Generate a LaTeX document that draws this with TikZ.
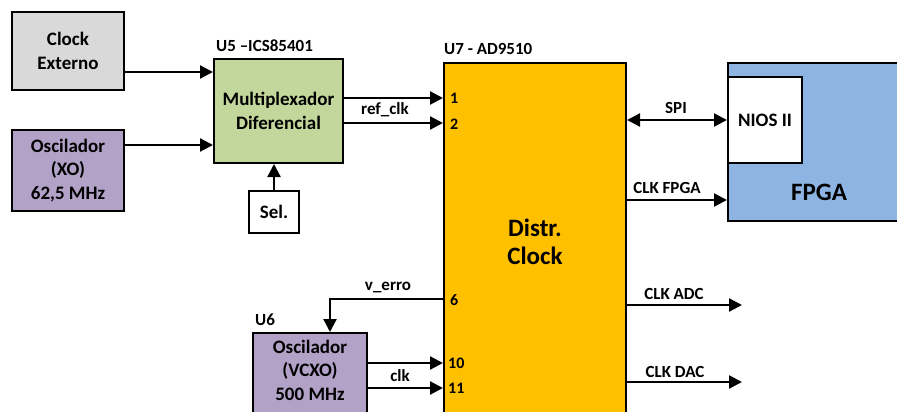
\documentclass[tikz,border=0pt]{standalone}
\usepackage{fontspec}
\setmainfont{Carlito}
\usetikzlibrary{arrows.meta}
\definecolor{cgray}{HTML}{D9D9D9}
\definecolor{cpurple}{HTML}{B3A2C7}
\definecolor{cgreen}{HTML}{C3D69B}
\definecolor{corange}{HTML}{FFC000}
\definecolor{cblue}{HTML}{8DB4E2}
\tikzset{
  box/.style={draw=black, line width=2pt, inner sep=0pt, align=center,
    font=\fontsize{19}{23.5}\selectfont\bfseries},
  arr/.style={line width=2.2pt, -{Triangle[length=13pt,width=13pt]}},
  darr/.style={line width=2.2pt, {Triangle[length=13pt,width=13pt]}-{Triangle[length=13pt,width=13pt]}},
  lbl/.style={font=\fontsize{17}{20}\selectfont\bfseries, inner sep=0pt},
  pin/.style={font=\fontsize{16}{19}\selectfont\bfseries, inner sep=0pt, anchor=west},
  big/.style={font=\fontsize{25}{28}\selectfont\bfseries, align=center, inner sep=0pt}
}
\begin{document}
\begin{tikzpicture}[x=1pt,y=-1pt]
\useasboundingbox (0,0) rectangle (897,412);
\clip (0,0) rectangle (897,412);
% boxes
\node[box, fill=cgray, minimum width=112pt, minimum height=78pt] (ce) at (68,51) {Clock\\Externo};
\node[box, fill=cpurple, minimum width=112pt, minimum height=81pt] (xo) at (68,170.5) {Oscilador\\(XO)\\62,5 MHz};
\node[box, fill=cgreen, minimum width=129pt, minimum height=104pt] (mux) at (278.5,111) {Multiplexador\\Diferencial};
\node[box, fill=white, minimum width=50pt, minimum height=42pt] (sel) at (274,211.5) {Sel.};
\node[box, fill=corange, minimum width=182pt, minimum height=367pt] (u7) at (535,246.5) {};
\node[box, fill=cblue, minimum width=182pt, minimum height=158pt] (fpga) at (819,142) {};
\node[box, fill=white, minimum width=74pt, minimum height=86pt] (nios) at (765,120) {NIOS II};
\node[box, fill=cpurple, minimum width=114pt, minimum height=107pt] (vcxo) at (310,386.5) {};
% texts inside
\node[big] (dc) at (535,242) {Distr.\\Clock};
\node[big] (ft) at (819,192) {FPGA};
\node[box, draw=none, anchor=north] (vt) at (310,339) {Oscilador\\(VCXO)\\500 MHz};
% titles
\node[lbl, anchor=west] (t5) at (216,46) {U5 –ICS85401};
\node[lbl, anchor=west] (t7) at (444,49) {U7 - AD9510};
\node[lbl, anchor=west] (t6) at (255,320) {U6};
% pins
\node[pin] (p1) at (450,98) {1};
\node[pin] (p2) at (450,124) {2};
\node[pin] (p6) at (450,300) {6};
\node[pin] (p10) at (448,363) {10};
\node[pin] (p11) at (448,388) {11};
% connectors
\draw[arr] (ce.east |- 0,72) -- (mux.west |- 0,72);
\draw[arr] (xo.east |- 0,145) -- (mux.west |- 0,145);
\draw[arr] (mux.east |- 0,98) -- (u7.west |- 0,98);
\draw[arr] (mux.east |- 0,123) -- (u7.west |- 0,123);
\draw[arr] (sel.north) -- (sel.north |- mux.south);
\draw[darr] (u7.east |- 0,120) -- (nios.west |- 0,120);
\draw[arr] (u7.east |- 0,200) -- (fpga.west |- 0,200);
\coordinate (adc) at (742,305);
\coordinate (dac) at (742,382);
\draw[arr] (u7.east |- adc) -- (adc);
\draw[arr] (u7.east |- dac) -- (dac);
\draw[arr] (u7.west |- 0,299) -| ([xshift=20pt]vcxo.north);
\draw[arr] (vcxo.east |- 0,363) -- (u7.west |- 0,363);
\draw[arr] (vcxo.east |- 0,388) -- (u7.west |- 0,388);
% connector labels
\node[lbl] (lref) at (385,110) {ref\_clk};
\node[lbl] (lspi) at (676,108) {SPI};
\node[lbl] (lfpga) at (667,188) {CLK FPGA};
\node[lbl] (ladc) at (674,294) {CLK ADC};
\node[lbl] (ldac) at (675,372) {CLK DAC};
\node[lbl] (lerr) at (388,287) {v\_erro};
\node[lbl] (lclk) at (400,376) {clk};
\end{tikzpicture}
\end{document}
